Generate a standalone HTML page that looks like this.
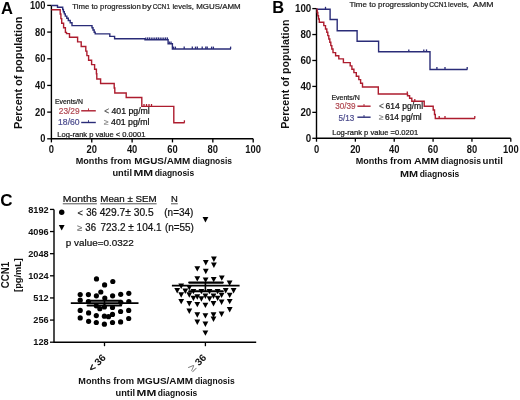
<!DOCTYPE html>
<html><head><meta charset="utf-8"><style>
html,body{margin:0;padding:0;background:#fff;width:520px;height:400px;overflow:hidden}
svg{display:block;will-change:transform}
text{font-family:"Liberation Sans",sans-serif}
</style></head><body>
<svg width="520" height="400" viewBox="0 0 520 400">
<rect width="520" height="400" fill="#fff"/>
<text x="1" y="13.5" font-size="16.5" font-weight="bold" text-anchor="start" fill="#000">A</text>
<text x="72.2" y="8.65" font-size="7.7" stroke="#222" stroke-width="0.22" text-anchor="start" fill="#222" textLength="68.6" lengthAdjust="spacingAndGlyphs">Time to progression</text>
<text x="142.1" y="8.65" font-size="7.7" stroke="#222" stroke-width="0.22" text-anchor="start" fill="#222" textLength="9.5" lengthAdjust="spacingAndGlyphs">by</text>
<text x="152.8" y="8.65" font-size="7.7" stroke="#222" stroke-width="0.22" text-anchor="start" fill="#222" textLength="17.1" lengthAdjust="spacingAndGlyphs">CCN1</text>
<text x="172.4" y="8.65" font-size="7.7" stroke="#222" stroke-width="0.22" text-anchor="start" fill="#222" textLength="21.4" lengthAdjust="spacingAndGlyphs">levels,</text>
<text x="196.2" y="8.65" font-size="7.7" stroke="#222" stroke-width="0.22" text-anchor="start" fill="#222" textLength="44.5" lengthAdjust="spacingAndGlyphs">MGUS/AMM</text>
<path d="M51.4,5.4V138.8H253.2" fill="none" stroke="#000" stroke-width="1.4"/>
<line x1="47.2" y1="138.8" x2="51.4" y2="138.8" stroke="#000" stroke-width="1.3"/>
<text x="45.4" y="142.4" font-size="10" font-weight="bold" text-anchor="end" fill="#111" textLength="5.17" lengthAdjust="spacingAndGlyphs">0</text>
<line x1="47.2" y1="112.12" x2="51.4" y2="112.12" stroke="#000" stroke-width="1.3"/>
<text x="45.4" y="115.72" font-size="10" font-weight="bold" text-anchor="end" fill="#111" textLength="10.34" lengthAdjust="spacingAndGlyphs">20</text>
<line x1="47.2" y1="85.44" x2="51.4" y2="85.44" stroke="#000" stroke-width="1.3"/>
<text x="45.4" y="89.04" font-size="10" font-weight="bold" text-anchor="end" fill="#111" textLength="10.34" lengthAdjust="spacingAndGlyphs">40</text>
<line x1="47.2" y1="58.76" x2="51.4" y2="58.76" stroke="#000" stroke-width="1.3"/>
<text x="45.4" y="62.36" font-size="10" font-weight="bold" text-anchor="end" fill="#111" textLength="10.34" lengthAdjust="spacingAndGlyphs">60</text>
<line x1="47.2" y1="32.08" x2="51.4" y2="32.08" stroke="#000" stroke-width="1.3"/>
<text x="45.4" y="35.68" font-size="10" font-weight="bold" text-anchor="end" fill="#111" textLength="10.34" lengthAdjust="spacingAndGlyphs">80</text>
<line x1="47.2" y1="5.4" x2="51.4" y2="5.4" stroke="#000" stroke-width="1.3"/>
<text x="45.4" y="9.0" font-size="10" font-weight="bold" text-anchor="end" fill="#111" textLength="15.51" lengthAdjust="spacingAndGlyphs">100</text>
<line x1="51.4" y1="138.8" x2="51.4" y2="142.4" stroke="#000" stroke-width="1.3"/>
<text x="51.4" y="153.1" font-size="10.3" font-weight="bold" text-anchor="middle" fill="#111" textLength="5.23" lengthAdjust="spacingAndGlyphs">0</text>
<line x1="91.76" y1="138.8" x2="91.76" y2="142.4" stroke="#000" stroke-width="1.3"/>
<text x="91.76" y="153.1" font-size="10.3" font-weight="bold" text-anchor="middle" fill="#111" textLength="10.45" lengthAdjust="spacingAndGlyphs">20</text>
<line x1="132.12" y1="138.8" x2="132.12" y2="142.4" stroke="#000" stroke-width="1.3"/>
<text x="132.12" y="153.1" font-size="10.3" font-weight="bold" text-anchor="middle" fill="#111" textLength="10.45" lengthAdjust="spacingAndGlyphs">40</text>
<line x1="172.48" y1="138.8" x2="172.48" y2="142.4" stroke="#000" stroke-width="1.3"/>
<text x="172.48" y="153.1" font-size="10.3" font-weight="bold" text-anchor="middle" fill="#111" textLength="10.45" lengthAdjust="spacingAndGlyphs">60</text>
<line x1="212.84" y1="138.8" x2="212.84" y2="142.4" stroke="#000" stroke-width="1.3"/>
<text x="212.84" y="153.1" font-size="10.3" font-weight="bold" text-anchor="middle" fill="#111" textLength="10.45" lengthAdjust="spacingAndGlyphs">80</text>
<line x1="253.2" y1="138.8" x2="253.2" y2="142.4" stroke="#000" stroke-width="1.3"/>
<text x="253.2" y="153.1" font-size="10.3" font-weight="bold" text-anchor="middle" fill="#111" textLength="15.68" lengthAdjust="spacingAndGlyphs">100</text>
<text transform="translate(22.4,72.9) rotate(-90)" font-size="10.8" font-weight="bold" text-anchor="middle" fill="#111" textLength="112.4" lengthAdjust="spacingAndGlyphs">Percent of population</text>
<text x="75.7" y="164.3" font-size="9.1" font-weight="bold" text-anchor="start" fill="#111" textLength="32.4" lengthAdjust="spacingAndGlyphs">Months</text>
<text x="110.6" y="164.3" font-size="9.1" font-weight="bold" text-anchor="start" fill="#111" textLength="20.8" lengthAdjust="spacingAndGlyphs">from</text>
<text x="134.2" y="164.3" font-size="9.1" font-weight="bold" text-anchor="start" fill="#111" textLength="56.1" lengthAdjust="spacingAndGlyphs">MGUS/AMM</text>
<text x="192.5" y="164.3" font-size="9.1" font-weight="bold" text-anchor="start" fill="#111" textLength="39.5" lengthAdjust="spacingAndGlyphs">diagnosis</text>
<text x="112.4" y="176.3" font-size="9.1" font-weight="bold" text-anchor="start" fill="#111" textLength="19.6" lengthAdjust="spacingAndGlyphs">until</text>
<text x="133.5" y="176.3" font-size="9.1" font-weight="bold" text-anchor="start" fill="#111" textLength="19.7" lengthAdjust="spacingAndGlyphs">MM</text>
<text x="154.7" y="176.3" font-size="9.1" font-weight="bold" text-anchor="start" fill="#111" textLength="39.5" lengthAdjust="spacingAndGlyphs">diagnosis</text>
<path d="M51.4,5.5H57.5V7.3H62.7V9.5H63.4V11.7H64.3V13.9H65.3V16.1H66.8V18.3H68.3V20.5H70.2V22.7H72V25.6H92V27.8H93V30H94.2V32.2H95.2V33.9H109.8V36.4H114.6V38.8H145V39.8H168.1V43.8H172.4V49H231" fill="none" stroke="#2a2c78" stroke-width="1.4"/>
<path d="M51.4,9.8H60.2V14H60.9V18.6H61.7V23.2H63.6V27.8H65.4V32.4H66.5V33.6H69.5V37.3H77.6V41.9H81.2V46.5H85.8V51.1H86.9V55.6H88.6V60.2H91.6V64.6H94.6V69.2H96.4V73.8H96.8V79H100.6V83.5H114.2V88H114.8V93H126.2V97.5H141.8V106.4H173.8V122.7H184.6" fill="none" stroke="#ad1c2e" stroke-width="1.4"/>
<line x1="145.8" y1="39.8" x2="145.8" y2="37.4" stroke="#2a2c78" stroke-width="1.3"/>
<line x1="147.6" y1="39.8" x2="147.6" y2="37.4" stroke="#2a2c78" stroke-width="1.3"/>
<line x1="149.4" y1="39.8" x2="149.4" y2="37.4" stroke="#2a2c78" stroke-width="1.3"/>
<line x1="151.2" y1="39.8" x2="151.2" y2="37.4" stroke="#2a2c78" stroke-width="1.3"/>
<line x1="153" y1="39.8" x2="153" y2="37.4" stroke="#2a2c78" stroke-width="1.3"/>
<line x1="154.8" y1="39.8" x2="154.8" y2="37.4" stroke="#2a2c78" stroke-width="1.3"/>
<line x1="156.6" y1="39.8" x2="156.6" y2="37.4" stroke="#2a2c78" stroke-width="1.3"/>
<line x1="158.4" y1="39.8" x2="158.4" y2="37.4" stroke="#2a2c78" stroke-width="1.3"/>
<line x1="160.2" y1="39.8" x2="160.2" y2="37.4" stroke="#2a2c78" stroke-width="1.3"/>
<line x1="162" y1="39.8" x2="162" y2="37.4" stroke="#2a2c78" stroke-width="1.3"/>
<line x1="163.8" y1="39.8" x2="163.8" y2="37.4" stroke="#2a2c78" stroke-width="1.3"/>
<line x1="165.6" y1="39.8" x2="165.6" y2="37.4" stroke="#2a2c78" stroke-width="1.3"/>
<line x1="167.4" y1="39.8" x2="167.4" y2="37.4" stroke="#2a2c78" stroke-width="1.3"/>
<line x1="169.3" y1="43.8" x2="169.3" y2="41.4" stroke="#2a2c78" stroke-width="1.3"/>
<line x1="171" y1="43.8" x2="171" y2="41.4" stroke="#2a2c78" stroke-width="1.3"/>
<line x1="173.6" y1="49" x2="173.6" y2="46.6" stroke="#2a2c78" stroke-width="1.3"/>
<line x1="175.4" y1="49" x2="175.4" y2="46.6" stroke="#2a2c78" stroke-width="1.3"/>
<line x1="184.2" y1="49" x2="184.2" y2="46.6" stroke="#2a2c78" stroke-width="1.3"/>
<line x1="192.3" y1="49" x2="192.3" y2="46.6" stroke="#2a2c78" stroke-width="1.3"/>
<line x1="195.5" y1="49" x2="195.5" y2="46.6" stroke="#2a2c78" stroke-width="1.3"/>
<line x1="197.3" y1="49" x2="197.3" y2="46.6" stroke="#2a2c78" stroke-width="1.3"/>
<line x1="202.2" y1="49" x2="202.2" y2="46.6" stroke="#2a2c78" stroke-width="1.3"/>
<line x1="205.8" y1="49" x2="205.8" y2="46.6" stroke="#2a2c78" stroke-width="1.3"/>
<line x1="207.2" y1="49" x2="207.2" y2="46.6" stroke="#2a2c78" stroke-width="1.3"/>
<line x1="211.6" y1="49" x2="211.6" y2="46.6" stroke="#2a2c78" stroke-width="1.3"/>
<line x1="213.4" y1="49" x2="213.4" y2="46.6" stroke="#2a2c78" stroke-width="1.3"/>
<line x1="230.6" y1="49" x2="230.6" y2="46.6" stroke="#2a2c78" stroke-width="1.3"/>
<line x1="144" y1="106.4" x2="144" y2="104.0" stroke="#ad1c2e" stroke-width="1.3"/>
<line x1="146.5" y1="106.4" x2="146.5" y2="104.0" stroke="#ad1c2e" stroke-width="1.3"/>
<line x1="149" y1="106.4" x2="149" y2="104.0" stroke="#ad1c2e" stroke-width="1.3"/>
<line x1="151.5" y1="106.4" x2="151.5" y2="104.0" stroke="#ad1c2e" stroke-width="1.3"/>
<line x1="184.4" y1="122.7" x2="184.4" y2="120.3" stroke="#ad1c2e" stroke-width="1.3"/>
<text x="55" y="103.7" font-size="7.4" stroke="#1a1a1a" stroke-width="0.22" text-anchor="start" fill="#1a1a1a" textLength="27.9" lengthAdjust="spacingAndGlyphs">Events/N</text>
<text x="58.8" y="113.7" font-size="8.6" stroke="#b24a53" stroke-width="0.22" text-anchor="start" fill="#b24a53" textLength="20.8" lengthAdjust="spacingAndGlyphs">23/29</text>
<line x1="81.2" y1="110.8" x2="95.8" y2="110.8" stroke="#ad1c2e" stroke-width="1.4"/><line x1="88.5" y1="110.8" x2="88.5" y2="108.4" stroke="#ad1c2e" stroke-width="0.9"/>
<text x="104.2" y="113.6" font-size="8.2" stroke="#555" stroke-width="0.22" text-anchor="start" fill="#555">&lt;</text>
<text x="111.5" y="113.6" font-size="8.3" stroke="#111" stroke-width="0.22" text-anchor="start" fill="#111" textLength="38.3" lengthAdjust="spacingAndGlyphs">401 pg/ml</text>
<text x="58.1" y="124.6" font-size="8.6" stroke="#4d4d8e" stroke-width="0.22" text-anchor="start" fill="#4d4d8e" textLength="21.5" lengthAdjust="spacingAndGlyphs">18/60</text>
<line x1="81.2" y1="122.5" x2="95.8" y2="122.5" stroke="#2a2c78" stroke-width="1.4"/><line x1="88.5" y1="122.5" x2="88.5" y2="120.2" stroke="#2a2c78" stroke-width="0.9"/>
<text x="104" y="125.3" font-size="8.4" stroke="#888" stroke-width="0.22" text-anchor="start" fill="#888">≥</text>
<text x="111.1" y="125.3" font-size="8.3" stroke="#111" stroke-width="0.22" text-anchor="start" fill="#111" textLength="38.4" lengthAdjust="spacingAndGlyphs">401 pg/ml</text>
<text x="57.3" y="136.6" font-size="7.5" stroke="#1a1a1a" stroke-width="0.22" text-anchor="start" fill="#1a1a1a" textLength="88.1" lengthAdjust="spacingAndGlyphs">Log-rank p value &lt; 0.0001</text>
<text x="272.3" y="13.25" font-size="16.5" font-weight="bold" text-anchor="start" fill="#000">B</text>
<text x="349.5" y="6.9" font-size="7.7" stroke="#222" stroke-width="0.22" text-anchor="start" fill="#222" textLength="70.3" lengthAdjust="spacingAndGlyphs">Time to progression</text>
<text x="420.6" y="6.9" font-size="7.7" stroke="#222" stroke-width="0.22" text-anchor="start" fill="#222" textLength="7.6" lengthAdjust="spacingAndGlyphs">by</text>
<text x="429.3" y="6.9" font-size="7.7" stroke="#222" stroke-width="0.22" text-anchor="start" fill="#222" textLength="18" lengthAdjust="spacingAndGlyphs">CCN1</text>
<text x="448.1" y="6.9" font-size="7.7" stroke="#222" stroke-width="0.22" text-anchor="start" fill="#222" textLength="20.8" lengthAdjust="spacingAndGlyphs">levels,</text>
<text x="473.1" y="6.9" font-size="7.7" stroke="#222" stroke-width="0.22" text-anchor="start" fill="#222" textLength="20.3" lengthAdjust="spacingAndGlyphs">AMM</text>
<path d="M316.5,8.6V138.3H510.8" fill="none" stroke="#000" stroke-width="1.4"/>
<line x1="312.3" y1="138.3" x2="316.5" y2="138.3" stroke="#000" stroke-width="1.3"/>
<text x="311.3" y="141.9" font-size="10" font-weight="bold" text-anchor="end" fill="#111" textLength="5.45" lengthAdjust="spacingAndGlyphs">0</text>
<line x1="312.3" y1="112.36" x2="316.5" y2="112.36" stroke="#000" stroke-width="1.3"/>
<text x="311.3" y="115.96" font-size="10" font-weight="bold" text-anchor="end" fill="#111" textLength="10.9" lengthAdjust="spacingAndGlyphs">20</text>
<line x1="312.3" y1="86.42" x2="316.5" y2="86.42" stroke="#000" stroke-width="1.3"/>
<text x="311.3" y="90.02" font-size="10" font-weight="bold" text-anchor="end" fill="#111" textLength="10.9" lengthAdjust="spacingAndGlyphs">40</text>
<line x1="312.3" y1="60.48" x2="316.5" y2="60.48" stroke="#000" stroke-width="1.3"/>
<text x="311.3" y="64.08" font-size="10" font-weight="bold" text-anchor="end" fill="#111" textLength="10.9" lengthAdjust="spacingAndGlyphs">60</text>
<line x1="312.3" y1="34.54" x2="316.5" y2="34.54" stroke="#000" stroke-width="1.3"/>
<text x="311.3" y="38.14" font-size="10" font-weight="bold" text-anchor="end" fill="#111" textLength="10.9" lengthAdjust="spacingAndGlyphs">80</text>
<line x1="312.3" y1="8.6" x2="316.5" y2="8.6" stroke="#000" stroke-width="1.3"/>
<text x="311.3" y="12.2" font-size="10" font-weight="bold" text-anchor="end" fill="#111" textLength="16.35" lengthAdjust="spacingAndGlyphs">100</text>
<line x1="316.5" y1="138.3" x2="316.5" y2="141.7" stroke="#000" stroke-width="1.3"/>
<text x="316.5" y="152.8" font-size="10.3" font-weight="bold" text-anchor="middle" fill="#111" textLength="5.23" lengthAdjust="spacingAndGlyphs">0</text>
<line x1="355.36" y1="138.3" x2="355.36" y2="141.7" stroke="#000" stroke-width="1.3"/>
<text x="355.36" y="152.8" font-size="10.3" font-weight="bold" text-anchor="middle" fill="#111" textLength="10.45" lengthAdjust="spacingAndGlyphs">20</text>
<line x1="394.22" y1="138.3" x2="394.22" y2="141.7" stroke="#000" stroke-width="1.3"/>
<text x="394.22" y="152.8" font-size="10.3" font-weight="bold" text-anchor="middle" fill="#111" textLength="10.45" lengthAdjust="spacingAndGlyphs">40</text>
<line x1="433.08" y1="138.3" x2="433.08" y2="141.7" stroke="#000" stroke-width="1.3"/>
<text x="433.08" y="152.8" font-size="10.3" font-weight="bold" text-anchor="middle" fill="#111" textLength="10.45" lengthAdjust="spacingAndGlyphs">60</text>
<line x1="471.94" y1="138.3" x2="471.94" y2="141.7" stroke="#000" stroke-width="1.3"/>
<text x="471.94" y="152.8" font-size="10.3" font-weight="bold" text-anchor="middle" fill="#111" textLength="10.45" lengthAdjust="spacingAndGlyphs">80</text>
<line x1="510.8" y1="138.3" x2="510.8" y2="141.7" stroke="#000" stroke-width="1.3"/>
<text x="510.8" y="152.8" font-size="10.3" font-weight="bold" text-anchor="middle" fill="#111" textLength="15.68" lengthAdjust="spacingAndGlyphs">100</text>
<text transform="translate(289.3,74.2) rotate(-90)" font-size="10.5" font-weight="bold" text-anchor="middle" fill="#111" textLength="109.2" lengthAdjust="spacingAndGlyphs">Percent of population</text>
<text x="355.7" y="164.3" font-size="9.1" font-weight="bold" text-anchor="start" fill="#111" textLength="32.2" lengthAdjust="spacingAndGlyphs">Months</text>
<text x="390.1" y="164.3" font-size="9.1" font-weight="bold" text-anchor="start" fill="#111" textLength="21.5" lengthAdjust="spacingAndGlyphs">from</text>
<text x="413.9" y="164.3" font-size="9.1" font-weight="bold" text-anchor="start" fill="#111" textLength="25.2" lengthAdjust="spacingAndGlyphs">AMM</text>
<text x="440.8" y="164.3" font-size="9.1" font-weight="bold" text-anchor="start" fill="#111" textLength="40.2" lengthAdjust="spacingAndGlyphs">diagnosis</text>
<text x="482.6" y="164.3" font-size="9.1" font-weight="bold" text-anchor="start" fill="#111" textLength="20.3" lengthAdjust="spacingAndGlyphs">until</text>
<text x="399.9" y="176.6" font-size="9.1" font-weight="bold" text-anchor="start" fill="#111" textLength="18.1" lengthAdjust="spacingAndGlyphs">MM</text>
<text x="419.7" y="176.6" font-size="9.1" font-weight="bold" text-anchor="start" fill="#111" textLength="39.6" lengthAdjust="spacingAndGlyphs">diagnosis</text>
<path d="M316.5,9.2H330.1V19.5H337.2V30.7H357.1V41.3H378.6V51.8H430V69.5H467.4" fill="none" stroke="#2a2c78" stroke-width="1.4"/>
<path d="M316.5,9.2H317.2V12.5H317.8V15.8H318.5V19H319.3V22.3H323.8V25.6H325.5V29H326.8V32.3H327.8V35.6H328.8V39H329.8V42.3H330.8V45.6H331.8V49H333V52.6H335.6V55.7H338.8V58.9H343.4V62.6H350.2V65.9H351.9V69.2H353.9V72.6H356.3V76.2H358.8V79.6H360.6V83.2H362.5V87H378.3V94H407.5V95.8H409.6V98.3H411.8V101.3H424.2V106.2H433.2V110H434.5V114.5H435.3V118.5H475" fill="none" stroke="#ad1c2e" stroke-width="1.4"/>
<line x1="325.5" y1="9.2" x2="325.5" y2="6.8" stroke="#2a2c78" stroke-width="1.3"/>
<line x1="408.8" y1="51.8" x2="408.8" y2="49.4" stroke="#2a2c78" stroke-width="1.3"/>
<line x1="423.8" y1="51.8" x2="423.8" y2="49.4" stroke="#2a2c78" stroke-width="1.3"/>
<line x1="426.5" y1="51.8" x2="426.5" y2="49.4" stroke="#2a2c78" stroke-width="1.3"/>
<line x1="436.9" y1="69.5" x2="436.9" y2="67.1" stroke="#2a2c78" stroke-width="1.3"/>
<line x1="445" y1="69.5" x2="445" y2="67.1" stroke="#2a2c78" stroke-width="1.3"/>
<line x1="467.2" y1="69.5" x2="467.2" y2="67.1" stroke="#2a2c78" stroke-width="1.3"/>
<line x1="407.3" y1="93.8" x2="407.3" y2="91.4" stroke="#ad1c2e" stroke-width="1.3"/>
<line x1="414.8" y1="101.3" x2="414.8" y2="98.9" stroke="#ad1c2e" stroke-width="1.3"/>
<line x1="439.2" y1="118.5" x2="439.2" y2="116.1" stroke="#ad1c2e" stroke-width="1.3"/>
<line x1="445" y1="118.5" x2="445" y2="116.1" stroke="#ad1c2e" stroke-width="1.3"/>
<line x1="474.8" y1="118.5" x2="474.8" y2="116.1" stroke="#ad1c2e" stroke-width="1.3"/>
<text x="331.4" y="99.8" font-size="7.4" stroke="#1a1a1a" stroke-width="0.22" text-anchor="start" fill="#1a1a1a" textLength="28.4" lengthAdjust="spacingAndGlyphs">Events/N</text>
<text x="335.2" y="109.4" font-size="8.6" stroke="#b24a53" stroke-width="0.22" text-anchor="start" fill="#b24a53" textLength="20.4" lengthAdjust="spacingAndGlyphs">30/39</text>
<line x1="357.4" y1="106.2" x2="370.6" y2="106.2" stroke="#ad1c2e" stroke-width="1.4"/><line x1="364" y1="106.2" x2="364" y2="104" stroke="#ad1c2e" stroke-width="0.9"/>
<text x="379" y="108.8" font-size="8.2" stroke="#555" stroke-width="0.22" text-anchor="start" fill="#555">&lt;</text>
<text x="385.6" y="108.8" font-size="8.3" stroke="#111" stroke-width="0.22" text-anchor="start" fill="#111" textLength="37.5" lengthAdjust="spacingAndGlyphs">614 pg/ml</text>
<text x="338.6" y="120.6" font-size="8.6" stroke="#4d4d8e" stroke-width="0.22" text-anchor="start" fill="#4d4d8e" textLength="15.8" lengthAdjust="spacingAndGlyphs">5/13</text>
<line x1="357.4" y1="117.2" x2="370.6" y2="117.2" stroke="#2a2c78" stroke-width="1.4"/><line x1="364" y1="117.2" x2="364" y2="115" stroke="#2a2c78" stroke-width="0.9"/>
<text x="379" y="119.8" font-size="8.4" stroke="#888" stroke-width="0.22" text-anchor="start" fill="#888">≥</text>
<text x="385.1" y="119.8" font-size="8.3" stroke="#111" stroke-width="0.22" text-anchor="start" fill="#111" textLength="36.6" lengthAdjust="spacingAndGlyphs">614 pg/ml</text>
<text x="332.2" y="135.4" font-size="7.5" stroke="#1a1a1a" stroke-width="0.22" text-anchor="start" fill="#1a1a1a" textLength="85.9" lengthAdjust="spacingAndGlyphs">Log-rank p value =0.0201</text>
<text x="0.3" y="206.2" font-size="17" font-weight="bold" text-anchor="start" fill="#000">C</text>
<path d="M54,209.42V342.2H256.2" fill="none" stroke="#000" stroke-width="1.4"/>
<line x1="50" y1="342.2" x2="54" y2="342.2" stroke="#000" stroke-width="1.3"/>
<text x="48.7" y="345.4" font-size="9.9" font-weight="bold" text-anchor="end" fill="#111" textLength="15.35" lengthAdjust="spacingAndGlyphs">128</text>
<line x1="50" y1="320.07" x2="54" y2="320.07" stroke="#000" stroke-width="1.3"/>
<text x="48.7" y="323.27" font-size="9.9" font-weight="bold" text-anchor="end" fill="#111" textLength="15.35" lengthAdjust="spacingAndGlyphs">256</text>
<line x1="50" y1="297.94" x2="54" y2="297.94" stroke="#000" stroke-width="1.3"/>
<text x="48.7" y="301.14" font-size="9.9" font-weight="bold" text-anchor="end" fill="#111" textLength="15.35" lengthAdjust="spacingAndGlyphs">512</text>
<line x1="50" y1="275.81" x2="54" y2="275.81" stroke="#000" stroke-width="1.3"/>
<text x="48.7" y="279.01" font-size="9.9" font-weight="bold" text-anchor="end" fill="#111" textLength="20.46" lengthAdjust="spacingAndGlyphs">1024</text>
<line x1="50" y1="253.68" x2="54" y2="253.68" stroke="#000" stroke-width="1.3"/>
<text x="48.7" y="256.88" font-size="9.9" font-weight="bold" text-anchor="end" fill="#111" textLength="20.46" lengthAdjust="spacingAndGlyphs">2048</text>
<line x1="50" y1="231.55" x2="54" y2="231.55" stroke="#000" stroke-width="1.3"/>
<text x="48.7" y="234.75" font-size="9.9" font-weight="bold" text-anchor="end" fill="#111" textLength="20.46" lengthAdjust="spacingAndGlyphs">4096</text>
<line x1="50" y1="209.42" x2="54" y2="209.42" stroke="#000" stroke-width="1.3"/>
<text x="48.7" y="212.62" font-size="9.9" font-weight="bold" text-anchor="end" fill="#111" textLength="20.46" lengthAdjust="spacingAndGlyphs">8192</text>
<line x1="104.5" y1="342.2" x2="104.5" y2="346.2" stroke="#000" stroke-width="1.3"/>
<line x1="205.4" y1="342.2" x2="205.4" y2="346.2" stroke="#000" stroke-width="1.3"/>
<text transform="translate(106.4,358.3) rotate(-45)" font-size="10" font-weight="bold" text-anchor="end" fill="#111"><tspan font-weight="normal" font-size="10" stroke="#111" stroke-width="0.45">&lt;</tspan> 36</text>
<text transform="translate(206.9,358.3) rotate(-45)" font-size="10" font-weight="bold" text-anchor="end" fill="#111"><tspan font-weight="normal" font-size="11.5" fill="#777">≥</tspan> 36</text>
<text x="78.3" y="384.1" font-size="9.1" font-weight="bold" text-anchor="start" fill="#111" textLength="32.4" lengthAdjust="spacingAndGlyphs">Months</text>
<text x="113.2" y="384.1" font-size="9.1" font-weight="bold" text-anchor="start" fill="#111" textLength="20.8" lengthAdjust="spacingAndGlyphs">from</text>
<text x="136.8" y="384.1" font-size="9.1" font-weight="bold" text-anchor="start" fill="#111" textLength="56.1" lengthAdjust="spacingAndGlyphs">MGUS/AMM</text>
<text x="195.1" y="384.1" font-size="9.1" font-weight="bold" text-anchor="start" fill="#111" textLength="39.5" lengthAdjust="spacingAndGlyphs">diagnosis</text>
<text x="115.5" y="396.2" font-size="9.1" font-weight="bold" text-anchor="start" fill="#111" textLength="19.6" lengthAdjust="spacingAndGlyphs">until</text>
<text x="136.6" y="396.2" font-size="9.1" font-weight="bold" text-anchor="start" fill="#111" textLength="19.7" lengthAdjust="spacingAndGlyphs">MM</text>
<text x="157.8" y="396.2" font-size="9.1" font-weight="bold" text-anchor="start" fill="#111" textLength="39.5" lengthAdjust="spacingAndGlyphs">diagnosis</text>
<text transform="translate(9.2,275) rotate(-90)" font-size="10" font-weight="bold" text-anchor="middle" fill="#111" textLength="26.5" lengthAdjust="spacingAndGlyphs">CCN1</text>
<text transform="translate(20.5,275) rotate(-90)" font-size="9.7" font-weight="bold" text-anchor="middle" fill="#111" textLength="33.8" lengthAdjust="spacingAndGlyphs">[pg/mL]</text>
<text x="62.8" y="202" font-size="9.2" stroke="#111" stroke-width="0.22" text-anchor="start" fill="#111" textLength="34.1" lengthAdjust="spacingAndGlyphs">Months</text>
<text x="100.3" y="202" font-size="9.2" stroke="#111" stroke-width="0.22" text-anchor="start" fill="#111" textLength="56.3" lengthAdjust="spacingAndGlyphs">Mean ± SEM</text>
<text x="171" y="202" font-size="9.2" stroke="#111" stroke-width="0.22" text-anchor="start" fill="#111" textLength="6.8" lengthAdjust="spacingAndGlyphs">N</text>
<line x1="62.8" y1="203.8" x2="96.9" y2="203.8" stroke="#222" stroke-width="0.8"/>
<line x1="100.3" y1="203.8" x2="156.6" y2="203.8" stroke="#222" stroke-width="0.8"/>
<line x1="171" y1="203.8" x2="177.8" y2="203.8" stroke="#222" stroke-width="0.8"/>
<circle cx="61.7" cy="212.2" r="2.7" fill="#000"/>
<path d="M58.8,225H64.6L61.7,230.5Z" fill="#000"/>
<text x="77.6" y="215.5" font-size="9.2" stroke="#222" stroke-width="0.22" text-anchor="start" fill="#222">&lt;</text>
<text x="86.2" y="215.5" font-size="10.2" stroke="#111" stroke-width="0.22" text-anchor="start" fill="#111" textLength="10.7" lengthAdjust="spacingAndGlyphs">36</text>
<text x="99.7" y="215.5" font-size="10.2" stroke="#111" stroke-width="0.22" text-anchor="start" fill="#111" textLength="53.9" lengthAdjust="spacingAndGlyphs">429.7± 30.5</text>
<text x="164.3" y="215.5" font-size="10.2" stroke="#111" stroke-width="0.22" text-anchor="start" fill="#111" textLength="29" lengthAdjust="spacingAndGlyphs">(n=34)</text>
<text x="76.9" y="231" font-size="9.2" stroke="#777" stroke-width="0.22" text-anchor="start" fill="#777">≥</text>
<text x="85.3" y="231" font-size="10.2" stroke="#111" stroke-width="0.22" text-anchor="start" fill="#111" textLength="10.7" lengthAdjust="spacingAndGlyphs">36</text>
<text x="100.5" y="231" font-size="10.2" stroke="#111" stroke-width="0.22" text-anchor="start" fill="#111" textLength="61.1" lengthAdjust="spacingAndGlyphs">723.2 ± 104.1</text>
<text x="165" y="231" font-size="10.2" stroke="#111" stroke-width="0.22" text-anchor="start" fill="#111" textLength="28.9" lengthAdjust="spacingAndGlyphs">(n=55)</text>
<text x="65.8" y="246.2" font-size="9.9" stroke="#111" stroke-width="0.22" text-anchor="start" fill="#111" textLength="68" lengthAdjust="spacingAndGlyphs">p value=0.0322</text>
<circle cx="96.5" cy="278.9" r="2.6" fill="#000"/>
<circle cx="112.8" cy="281.5" r="2.6" fill="#000"/>
<circle cx="104.6" cy="284.9" r="2.6" fill="#000"/>
<circle cx="100.8" cy="292" r="2.6" fill="#000"/>
<circle cx="80.2" cy="294.5" r="2.6" fill="#000"/>
<circle cx="88.4" cy="294.6" r="2.6" fill="#000"/>
<circle cx="96.4" cy="295.8" r="2.6" fill="#000"/>
<circle cx="112.6" cy="295.8" r="2.6" fill="#000"/>
<circle cx="120.7" cy="294.3" r="2.6" fill="#000"/>
<circle cx="128.8" cy="293.3" r="2.6" fill="#000"/>
<circle cx="80.2" cy="300.2" r="2.6" fill="#000"/>
<circle cx="88.4" cy="301.5" r="2.6" fill="#000"/>
<circle cx="104.8" cy="298" r="2.6" fill="#000"/>
<circle cx="128.8" cy="301.5" r="2.6" fill="#000"/>
<circle cx="120.8" cy="302.3" r="2.6" fill="#000"/>
<circle cx="96.3" cy="305.8" r="2.6" fill="#000"/>
<circle cx="99.8" cy="308.7" r="2.6" fill="#000"/>
<circle cx="104.4" cy="306.9" r="2.6" fill="#000"/>
<circle cx="112.5" cy="307.5" r="2.6" fill="#000"/>
<circle cx="80.2" cy="310.4" r="2.6" fill="#000"/>
<circle cx="88.6" cy="312.9" r="2.6" fill="#000"/>
<circle cx="96.3" cy="315.6" r="2.6" fill="#000"/>
<circle cx="104.4" cy="316.2" r="2.6" fill="#000"/>
<circle cx="108.5" cy="316.7" r="2.6" fill="#000"/>
<circle cx="112.5" cy="314.4" r="2.6" fill="#000"/>
<circle cx="120.6" cy="311.5" r="2.6" fill="#000"/>
<circle cx="128.7" cy="310.4" r="2.6" fill="#000"/>
<circle cx="80.2" cy="317.9" r="2.6" fill="#000"/>
<circle cx="88.6" cy="321.3" r="2.6" fill="#000"/>
<circle cx="96.3" cy="322.5" r="2.6" fill="#000"/>
<circle cx="104.4" cy="324.2" r="2.6" fill="#000"/>
<circle cx="112.5" cy="322.5" r="2.6" fill="#000"/>
<circle cx="120.6" cy="321.9" r="2.6" fill="#000"/>
<circle cx="128.7" cy="318.5" r="2.6" fill="#000"/>
<path d="M211.00,256.50H216.80L213.90,261.90Z" fill="#000"/>
<path d="M202.90,260.00H208.70L205.80,265.40Z" fill="#000"/>
<path d="M211.00,262.60H216.80L213.90,268.00Z" fill="#000"/>
<path d="M194.40,266.20H200.20L197.30,271.60Z" fill="#000"/>
<path d="M202.90,268.80H208.70L205.80,274.20Z" fill="#000"/>
<path d="M194.40,276.20H200.20L197.30,281.60Z" fill="#000"/>
<path d="M202.70,277.40H208.50L205.60,282.80Z" fill="#000"/>
<path d="M210.80,276.90H216.60L213.70,282.30Z" fill="#000"/>
<path d="M218.90,275.40H224.70L221.80,280.80Z" fill="#000"/>
<path d="M226.70,280.60H232.50L229.60,286.00Z" fill="#000"/>
<path d="M178.30,283.50H184.10L181.20,288.90Z" fill="#000"/>
<path d="M186.40,285.00H192.20L189.30,290.40Z" fill="#000"/>
<path d="M174.30,288.10H180.10L177.20,293.50Z" fill="#000"/>
<path d="M182.40,288.60H188.20L185.30,294.00Z" fill="#000"/>
<path d="M190.50,288.90H196.30L193.40,294.30Z" fill="#000"/>
<path d="M198.50,288.90H204.30L201.40,294.30Z" fill="#000"/>
<path d="M206.60,288.90H212.40L209.50,294.30Z" fill="#000"/>
<path d="M214.70,288.90H220.50L217.60,294.30Z" fill="#000"/>
<path d="M222.80,288.10H228.60L225.70,293.50Z" fill="#000"/>
<path d="M230.70,288.10H236.50L233.60,293.50Z" fill="#000"/>
<path d="M178.30,292.30H184.10L181.20,297.70Z" fill="#000"/>
<path d="M186.40,292.30H192.20L189.30,297.70Z" fill="#000"/>
<path d="M194.40,294.30H200.20L197.30,299.70Z" fill="#000"/>
<path d="M202.50,293.50H208.30L205.40,298.90Z" fill="#000"/>
<path d="M210.60,293.50H216.40L213.50,298.90Z" fill="#000"/>
<path d="M218.70,292.70H224.50L221.60,298.10Z" fill="#000"/>
<path d="M226.80,292.70H232.60L229.70,298.10Z" fill="#000"/>
<path d="M190.50,295.70H196.30L193.40,301.10Z" fill="#000"/>
<path d="M198.50,296.30H204.30L201.40,301.70Z" fill="#000"/>
<path d="M206.60,296.30H212.40L209.50,301.70Z" fill="#000"/>
<path d="M214.70,295.70H220.50L217.60,301.10Z" fill="#000"/>
<path d="M178.30,298.90H184.10L181.20,304.30Z" fill="#000"/>
<path d="M186.40,301.10H192.20L189.30,306.50Z" fill="#000"/>
<path d="M194.40,301.90H200.20L197.30,307.30Z" fill="#000"/>
<path d="M202.50,302.70H208.30L205.40,308.10Z" fill="#000"/>
<path d="M210.60,301.10H216.40L213.50,306.50Z" fill="#000"/>
<path d="M218.70,299.60H224.50L221.60,305.00Z" fill="#000"/>
<path d="M226.80,298.90H232.60L229.70,304.30Z" fill="#000"/>
<path d="M186.40,308.60H192.20L189.30,314.00Z" fill="#000"/>
<path d="M226.80,307.00H232.60L229.70,312.40Z" fill="#000"/>
<path d="M194.40,312.30H200.20L197.30,317.70Z" fill="#000"/>
<path d="M202.50,313.20H208.30L205.40,318.60Z" fill="#000"/>
<path d="M210.60,312.30H216.40L213.50,317.70Z" fill="#000"/>
<path d="M218.70,311.60H224.50L221.60,317.00Z" fill="#000"/>
<path d="M210.60,316.60H216.40L213.50,322.00Z" fill="#000"/>
<path d="M194.40,319.60H200.20L197.30,325.00Z" fill="#000"/>
<path d="M202.50,321.50H208.30L205.40,326.90Z" fill="#000"/>
<path d="M202.50,330.40H208.30L205.40,335.80Z" fill="#000"/>
<path d="M202.55,217.05H208.35L205.45,222.45Z" fill="#000"/>
<line x1="104.5" y1="300.7" x2="104.5" y2="305.5" stroke="#000" stroke-width="1.6"/>
<line x1="87.6" y1="300.7" x2="121.1" y2="300.7" stroke="#000" stroke-width="2.1" stroke-linecap="round"/>
<line x1="87.6" y1="305.5" x2="121.1" y2="305.5" stroke="#000" stroke-width="2.1" stroke-linecap="round"/>
<line x1="70.8" y1="303.1" x2="138.5" y2="303.1" stroke="#000" stroke-width="1.9"/>
<line x1="205.4" y1="282.6" x2="205.4" y2="291.2" stroke="#000" stroke-width="1.6"/>
<line x1="189.2" y1="282.6" x2="222.8" y2="282.6" stroke="#000" stroke-width="2.1" stroke-linecap="round"/>
<line x1="189.2" y1="291.2" x2="222.8" y2="291.2" stroke="#000" stroke-width="2.1" stroke-linecap="round"/>
<line x1="171.9" y1="285.6" x2="239.6" y2="285.6" stroke="#000" stroke-width="1.9"/>
</svg>
</body></html>
